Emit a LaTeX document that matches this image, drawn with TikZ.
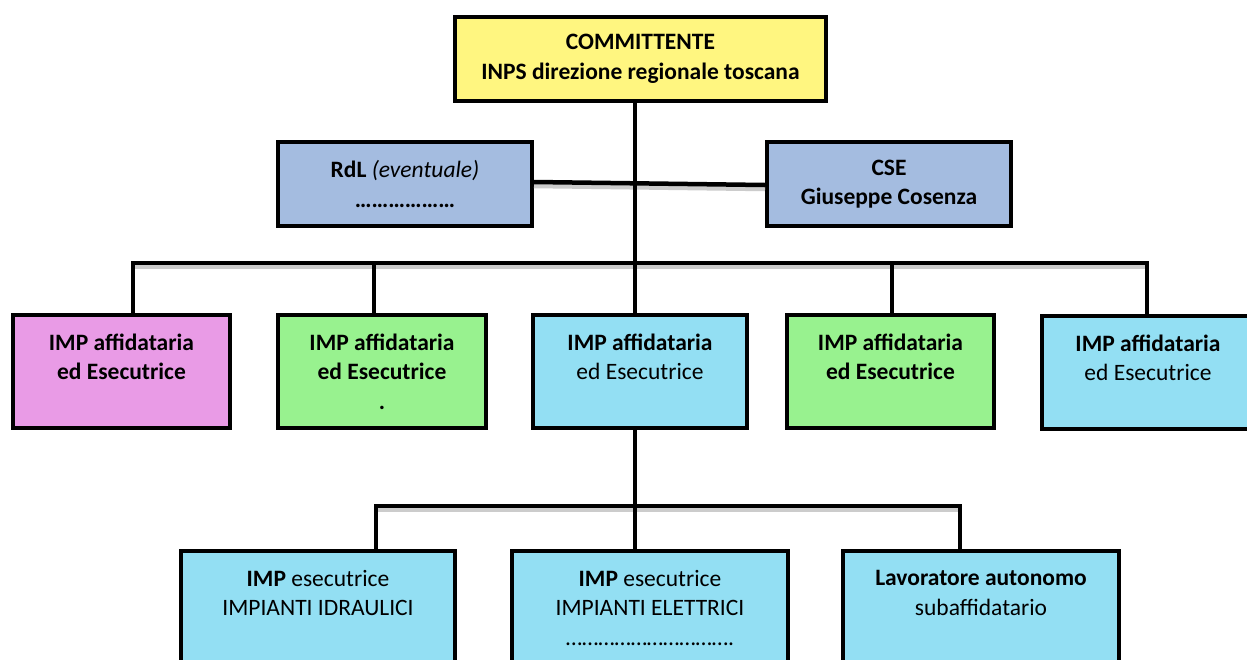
\documentclass[tikz,border=0pt]{standalone}
\usepackage{fontspec}
\setmainfont{Carlito}
\definecolor{cyellow}{RGB}{255,246,128}
\definecolor{cblue}{RGB}{164,188,224}
\definecolor{cpink}{RGB}{233,155,230}
\definecolor{cgreen}{RGB}{152,242,143}
\definecolor{ccyan}{RGB}{147,223,243}
\begin{document}
\begin{tikzpicture}[x=1pt,y=-1pt,
  box/.style={draw=black, line width=4pt, inner sep=0pt, align=center,
    font=\fontsize{23.5}{29.5}\selectfont},
  conn/.style={draw=black, line width=4.5pt},
  shconn/.style={conn, preaction={draw=black!20, line width=4.5pt, transform canvas={yshift=-4pt}}}
]
\clip (0,0) rectangle (1247,659);
\fill[white] (0,0) rectangle (1247,659);

% coordinates for bus lines
\coordinate (bA) at (635,263);
\coordinate (bL) at (133,263);
\coordinate (bR) at (1147,263);
\coordinate (cA) at (635,506);
\coordinate (cL) at (376,506);
\coordinate (cR) at (960,506);

% connectors (drawn first, boxes on top)
\draw[shconn, line cap=rect] (bL) -- (bR);
\draw[shconn, line cap=rect] (cL) -- (cR);
\draw[conn] (635,101) -- (bA);
\draw[conn] (bL) -- (133,318);
\draw[conn] (374,263) -- (374,318);
\draw[conn] (bA) -- (635,318);
\draw[conn] (892,263) -- (892,318);
\draw[conn] (bR) -- (1147,318);
\draw[conn] (635,428) -- (cA);
\draw[conn] (cL) -- (376,553);
\draw[conn] (cA) -- (635,553);
\draw[conn] (cR) -- (960,553);

% top
\node[box, fill=cyellow, minimum width=371, minimum height=84] (top) at (640.5,59)
  {\bfseries COMMITTENTE\\ \bfseries INPS direzione regionale toscana};

% RdL and CSE
\node[box, fill=cblue, minimum width=254, minimum height=84] (rdl) at (405,184)
  {\textbf{RdL} \textit{(eventuale)}\\ \bfseries ………………};
\node[box, fill=cblue, minimum width=244, minimum height=84] (cse) at (889,184)
  {\bfseries CSE\\ \bfseries Giuseppe Cosenza};
\draw[shconn] ([yshift=2pt]rdl.east) -- ([yshift=-1pt]cse.west);
\draw[conn] (635,101) -- (635,263);

% row 1
\node[box, fill=cpink, minimum width=217, minimum height=113] (b1) at (121.5,371.5)
  {\bfseries IMP affidataria\\ \bfseries ed Esecutrice\\ \mbox{}};
\node[box, fill=cgreen, minimum width=208, minimum height=113] (b2) at (382,371.5)
  {\bfseries IMP affidataria\\ \bfseries ed Esecutrice\\ \bfseries .};
\node[box, fill=ccyan, minimum width=214, minimum height=113] (b3) at (640,371.5)
  {\bfseries IMP affidataria\\ ed Esecutrice\\ \mbox{}};
\node[box, fill=cgreen, minimum width=207, minimum height=113] (b4) at (890.5,371.5)
  {\bfseries IMP affidataria\\ \bfseries ed Esecutrice\\ \mbox{}};
\node[box, fill=ccyan, minimum width=212, minimum height=113] (b5) at (1148,372.5)
  {\bfseries IMP affidataria\\ ed Esecutrice\\ \mbox{}};

% row 2
\node[box, fill=ccyan, minimum width=274, minimum height=113] (c1) at (318,607.5)
  {\textbf{IMP} esecutrice\\ IMPIANTI IDRAULICI\\ \mbox{}};
\node[box, fill=ccyan, minimum width=276, minimum height=113] (c2) at (650,607.5)
  {\textbf{IMP} esecutrice\\ IMPIANTI ELETTRICI\\ ………………………….};
\node[box, fill=ccyan, minimum width=276, minimum height=113] (c3) at (981,607.5)
  {\textbf{Lavoratore autonomo}\\ subaffidatario\\ \mbox{}};
\end{tikzpicture}
\end{document}
